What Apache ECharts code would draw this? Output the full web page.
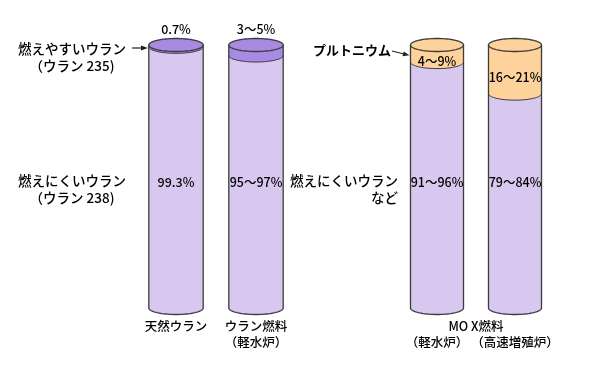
<!DOCTYPE html>
<html><head><meta charset="utf-8">
<script src="https://cdn.jsdelivr.net/npm/echarts@6/dist/echarts.min.js"></script>
<style>html,body{margin:0;padding:0;background:#fff}#c{width:600px;height:375px}</style>
</head><body><div id="c"></div>
<script>
// ---- data ----
const categories = ['天然ウラン', 'ウラン燃料（軽水炉）', 'MOX燃料（軽水炉）', 'MOX燃料（高速増殖炉）'];
const axisLabels = ['天然ウラン', 'ウラン燃料\n（軽水炉）', '（軽水炉）', '（高速増殖炉）'];
const fissileShare = [0.7, 4, 6.5, 18.5];            // top layer (%)
const fissileLabels = ['0.7%', '3～5%', '4～9%', '16～21%'];
const restLabels = ['99.3%', '95～97%', '91～96%', '79～84%'];
const fissileKind = ['U235', 'U235', 'Pu', 'Pu'];

// ---- style ----
const FONT = '"Noto Sans CJK JP", "Noto Sans", sans-serif';
const TXT = '#000';
const BODY = '#d8c8f0';
const EDGE = '#3c3c3c';
const KIND_COLOR = { U235: '#a98ae2', Pu: '#fdd39b' };

function arcPts(cx, cy, rx, ry, from, to, n) {
  const pts = [];
  for (let j = 0; j <= n; j++) {
    const t = from + (to - from) * j / n;
    pts.push([cx + rx * Math.cos(t), cy + ry * Math.sin(t)]);
  }
  return pts;
}

function makeRender(offset) {
  return function (params, api) {
    const i = api.value(0);
    const k = i + offset;
    const share = api.value(1);
    const top = api.coord([i, 100]);
    const bot = api.coord([i, 0]);
    const band = api.coord([i, 100 - share]);
    const lab = api.coord([i, 48]);
    const cx = top[0];
    const rx = api.size([1, 0])[0] * 0.34;
    const ry = 6.5;
    const yT = top[1], yB = bot[1], yM = band[1];
    const col = KIND_COLOR[fissileKind[k]];

    const lowerBot = arcPts(cx, yB, rx, ry, Math.PI, 0, 40);
    const lowerBand = arcPts(cx, yM, rx, ry, Math.PI, 0, 40);
    const full = arcPts(cx, yT, rx, ry, 0, Math.PI * 2, 80);

    const children = [
      { type: 'polygon', shape: { points: [[cx - rx, yT]].concat(lowerBot).concat([[cx + rx, yT]]) },
        style: { fill: BODY, stroke: null } },
      { type: 'polygon', shape: { points: [[cx - rx, yT]].concat(lowerBand).concat([[cx + rx, yT]]) },
        style: { fill: col, stroke: null } },
      { type: 'polyline', shape: { points: lowerBand }, style: { stroke: EDGE, lineWidth: 1, fill: null } },
      { type: 'polyline', shape: { points: [[cx - rx, yT]].concat(lowerBot).concat([[cx + rx, yT]]) },
        style: { stroke: EDGE, lineWidth: 1.3, fill: null } },
      { type: 'polygon', shape: { points: full }, style: { fill: col, stroke: EDGE, lineWidth: 1.3 } },
      { type: 'text', x: cx, y: lab[1],
        style: { text: restLabels[k], align: 'center', verticalAlign: 'middle', fill: TXT, font: '500 12.5px ' + FONT } }
    ];
    if (fissileKind[k] === 'Pu') {
      children.push({ type: 'text', x: cx, y: (yT + yM) / 2 + ry + 1,
        style: { text: fissileLabels[k], align: 'center', verticalAlign: 'middle', fill: TXT, font: '500 12.5px ' + FONT } });
    } else {
      children.push({ type: 'text', x: cx, y: yT - 16,
        style: { text: fissileLabels[k], align: 'center', verticalAlign: 'middle', fill: TXT, font: '500 12.5px ' + FONT } });
    }
    return { type: 'group', children: children };
  };
}

const chart = echarts.init(document.getElementById('c'), null, { renderer: 'canvas' });

function xAxisFor(gi, offset, margin) {
  return {
    type: 'category', gridIndex: gi,
    data: categories.slice(offset, offset + 2),
    axisLine: { show: false }, axisTick: { show: false }, splitLine: { show: false },
    axisLabel: {
      margin: margin, fontSize: 12.5, fontWeight: 500, lineHeight: 16, color: TXT, fontFamily: FONT, interval: 0,
      formatter: function (v, idx) { return axisLabels[idx + offset]; }
    }
  };
}
function yAxisFor(gi) {
  return { type: 'value', gridIndex: gi, min: 0, max: 100, show: false };
}

chart.setOption({
  animation: false,
  backgroundColor: '#fff',
  grid: [
    { left: 136, width: 160, top: 45, height: 263 },
    { left: 398, width: 156, top: 45, height: 263 }
  ],
  xAxis: [xAxisFor(0, 0, 10), xAxisFor(1, 2, 26)],
  yAxis: [yAxisFor(0), yAxisFor(1)],
  series: [
    { type: 'custom', xAxisIndex: 0, yAxisIndex: 0, renderItem: makeRender(0),
      encode: { x: 0, y: 1 }, data: [[0, fissileShare[0]], [1, fissileShare[1]]] },
    { type: 'custom', xAxisIndex: 1, yAxisIndex: 1, renderItem: makeRender(2),
      encode: { x: 0, y: 1 }, data: [[0, fissileShare[2]], [1, fissileShare[3]]] }
  ],
  graphic: [
    { type: 'text', x: 72, y: 57.5,
      style: { text: '燃えやすいウラン\n（ウラン 235)', align: 'center', verticalAlign: 'middle',
        lineHeight: 17, fill: TXT, font: '500 13.5px ' + FONT } },
    { type: 'line', shape: { x1: 132, y1: 48, x2: 143, y2: 48 }, style: { stroke: '#222', lineWidth: 1.2 } },
    { type: 'polygon', shape: { points: [[148, 48], [141, 45.5], [141, 50.5]] }, style: { fill: '#222' } },
    { type: 'text', x: 72, y: 189,
      style: { text: '燃えにくいウラン\n（ウラン 238)', align: 'center', verticalAlign: 'middle',
        lineHeight: 17, fill: TXT, font: '500 13.5px ' + FONT } },
    { type: 'text', x: 398, y: 189,
      style: { text: '燃えにくいウラン\nなど', align: 'right', verticalAlign: 'middle',
        lineHeight: 17, fill: TXT, font: '500 13.5px ' + FONT } },
    { type: 'text', x: 391, y: 50,
      style: { text: 'プルトニウム', align: 'right', verticalAlign: 'middle',
        fill: TXT, font: 'bold 13px ' + FONT } },
    { type: 'line', shape: { x1: 392, y1: 51, x2: 404, y2: 54 }, style: { stroke: '#222', lineWidth: 1.2 } },
    { type: 'polygon', shape: { points: [[409.5, 55.3], [402.5, 56.3], [403.7, 51.4]] }, style: { fill: '#222' } },
    { type: 'text', x: 476, y: 326,
      style: { text: 'MO X燃料', align: 'center', verticalAlign: 'middle', fill: TXT, font: '500 12.5px ' + FONT } }
  ]
});
</script>
</body></html>
